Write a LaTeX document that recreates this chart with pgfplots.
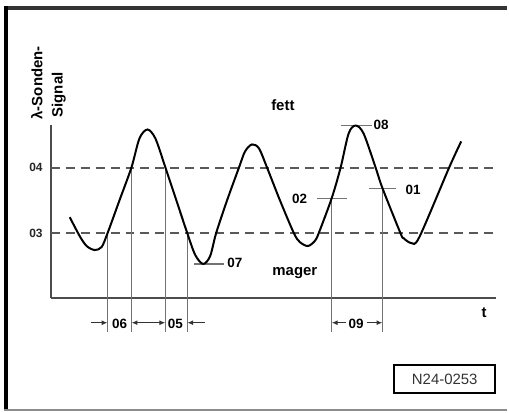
\documentclass[border=0pt]{standalone}
\usepackage{fontspec}
\setmainfont{Liberation Sans}
\usepackage{pgfplots}
\pgfplotsset{compat=1.18}
\usetikzlibrary{arrows.meta}
\newcommand{\fw}{\fontsize{15}{18}\selectfont\bfseries}
\newcommand{\fn}{\fontsize{13.5}{15}\selectfont\bfseries}
\newcommand{\ft}{\fontsize{12}{13}\selectfont\bfseries}
\begin{document}
\begin{tikzpicture}
\begin{axis}[
  x=1pt, y=1pt,
  xmin=51, xmax=498, ymin=115, ymax=289,
  enlargelimits=false,
  axis lines=left,
  axis line style={-, line width=2.5pt, black!70},
  xtick=\empty,
  ytick={180,246}, yticklabels={03,04},
  major tick length=0pt,
  /pgf/number format/assume math mode=true,
  yticklabel style={font=\ft, text=black!85, anchor=east, inner sep=0pt, xshift=-8pt},
  clip=false,
]
% bounding box
\path (axis cs:0,0) rectangle (axis cs:509,414);
% frame
\draw[line width=4pt, black!80] (axis cs:4,405.5) -- (axis cs:509,405.5);
\draw[line width=4pt, black] (axis cs:6,407.5) -- (axis cs:6,1.5);
\draw[line width=1.5pt, black!45] (axis cs:4,2.5) -- (axis cs:509,2.5);
% threshold lines
\addplot[black!65, line width=1.6pt, dash pattern=on 9pt off 6pt] coordinates {(51,245.5) (498,245.5)};
\addplot[black!65, line width=1.6pt, dash pattern=on 9pt off 6pt] coordinates {(51,180) (498,180)};
% vertical guide lines
\addplot[black!55, line width=1.2pt] coordinates {(108,180) (108,81)};
\addplot[black!55, line width=1.2pt] coordinates {(132,246) (132,81)};
\addplot[black!55, line width=1.2pt] coordinates {(166,246) (166,81)};
\addplot[black!55, line width=1.2pt] coordinates {(188,180) (188,81)};
\addplot[black!55, line width=1.2pt] coordinates {(333,215) (333,81)};
\addplot[black!55, line width=1.2pt] coordinates {(384,225) (384,81)};
% marker lines
\addplot[black!55, line width=1.2pt] coordinates {(342,288) (373,288)};
\addplot[black!55, line width=1.2pt] coordinates {(370,225) (398,225)};
\addplot[black!55, line width=1.2pt] coordinates {(318,215) (348,215)};
\addplot[black!55, line width=1.2pt] coordinates {(195,149) (225,149)};
% signal
\addplot[black, line width=2pt, smooth, tension=0.5] coordinates {
(70,196) (80,177) (87,167) (95,163) (102,166) (108,180) (120,213) (132,246)
(140,275) (148,284) (156,275) (166,246) (177,213) (188,180) (196,158)
(204,149) (211,157) (217,180) (228,213) (240,246) (246,262) (253,269)
(260,265) (268,246) (281,213) (295,180) (301,171) (309,167) (316,172)
(320,180) (333,215) (342,246) (350,280) (357,288) (365,280) (377,246)
(384,225) (402,180) (405,175) (413,170) (421,176) (451,246) (463,272)
};
% dimension arrows
\pgfplotsset{dimarrow/.style={black!80, line width=1.2pt, -{Latex[length=6pt,width=5pt]}}}
\addplot[dimarrow] coordinates {(91,90) (108,90)};
\addplot[dimarrow] coordinates {(149,90) (132,90)};
\addplot[dimarrow] coordinates {(149,90) (166,90)};
\addplot[dimarrow] coordinates {(206,90) (188,90)};
\addplot[dimarrow] coordinates {(347,90) (333,90)};
\addplot[dimarrow] coordinates {(368,90) (384,90)};
% labels
\node[font=\fn, anchor=base, inner sep=0pt] at (axis cs:120,84) {06};
\node[font=\fn, anchor=base, inner sep=0pt] at (axis cs:176,84) {05};
\node[font=\fn, anchor=base, inner sep=0pt] at (axis cs:357.5,84) {09};
\node[font=\fn, anchor=base west, inner sep=0pt] at (axis cs:375,283.5) {08};
\node[font=\fn, anchor=base west, inner sep=0pt] at (axis cs:407,219) {01};
\node[font=\fn, anchor=base west, inner sep=0pt] at (axis cs:293,210) {02};
\node[font=\fn, anchor=base west, inner sep=0pt] at (axis cs:228,145) {07};
\node[font=\fw, anchor=base, inner sep=0pt] at (axis cs:284,303) {fett};
\node[font=\fw, anchor=base, inner sep=0pt] at (axis cs:296,137) {mager};
\node[font=\fw, anchor=base, inner sep=0pt] at (axis cs:486,95) {t};
\node[font=\fw, rotate=90, anchor=west, inner sep=0pt] at (axis cs:37,294) {λ-Sonden-};
\node[font=\fw, rotate=90, anchor=west, inner sep=0pt] at (axis cs:59,296) {Signal};
% reference box
\draw[line width=2pt, black] (axis cs:396,19) rectangle (axis cs:497,48);
\node[font=\fontsize{15}{18}\selectfont, text=black!80, inner sep=0pt] at (axis cs:446.5,33.5) {N24-0253};
\end{axis}
\end{tikzpicture}
\end{document}
